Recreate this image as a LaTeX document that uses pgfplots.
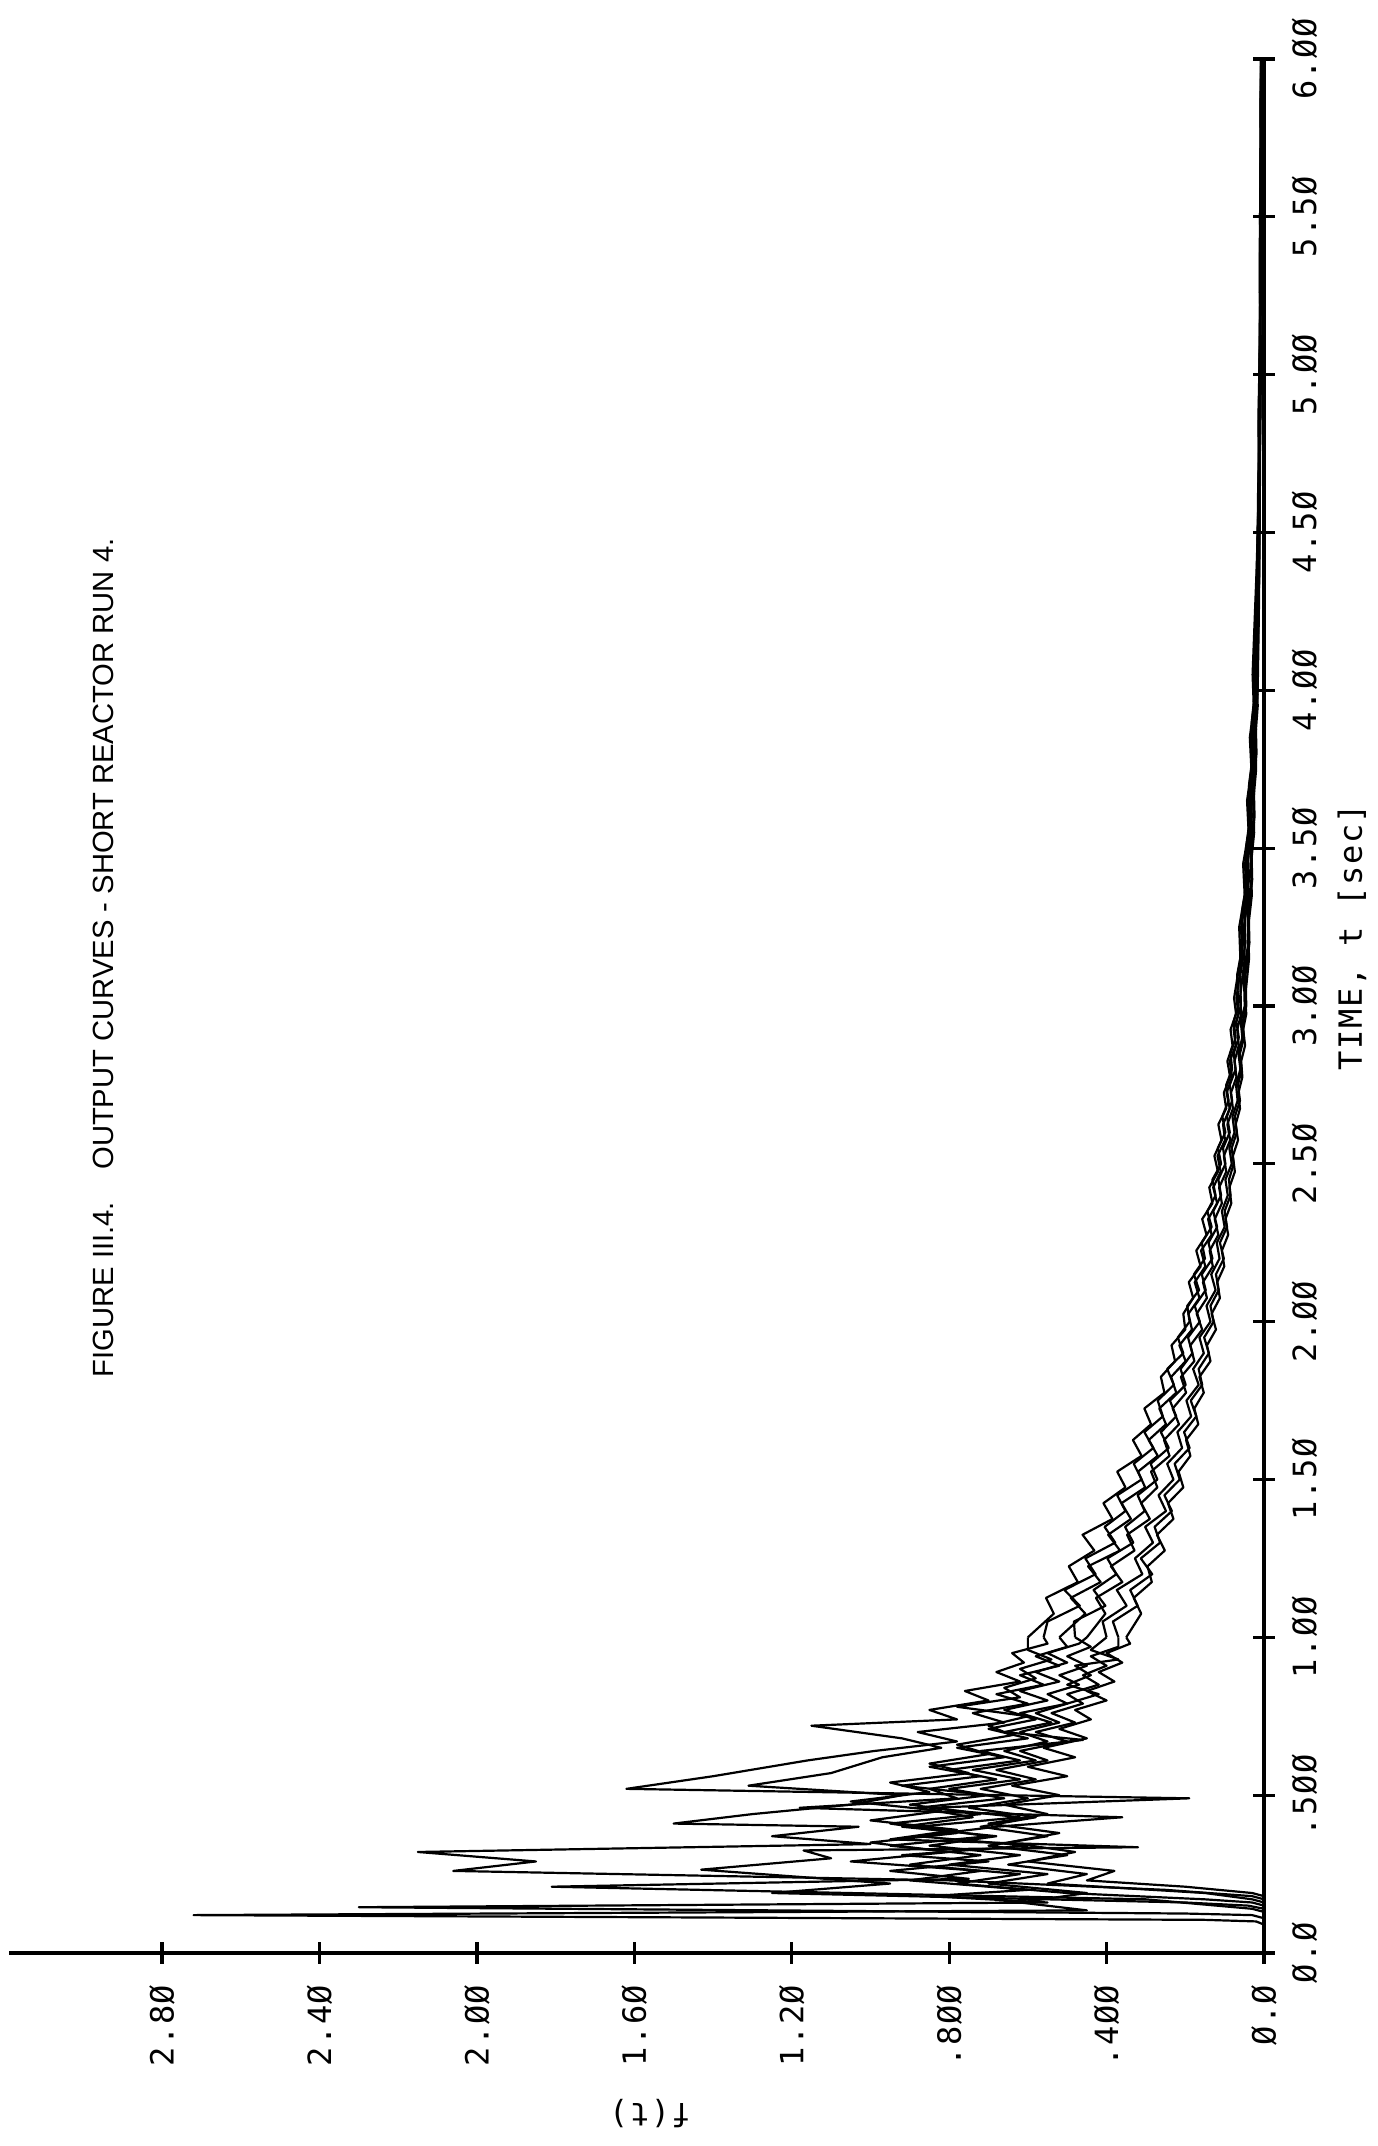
\documentclass[border=0pt]{standalone}
\usepackage{fontspec}
\usepackage{pgfplots}
\pgfplotsset{compat=1.18}
\usepackage{pgfplotstable}
\setmainfont{Liberation Sans}
\newfontfamily\plotfont[LetterSpace=5]{DejaVu Sans Mono}
\newfontfamily\titlefont{Liberation Sans}

% early part of each run (t, f)
\pgfplotstableread{
t f
0 0
0.09 0
0.10 0.02
0.105 0.15
0.12 2.72
0.135 0.45
0.16 0.62
0.19 0.45
0.22 0.70
0.25 0.55
0.28 0.80
0.31 0.62
0.34 0.85
0.37 0.68
0.40 0.92
0.43 0.74
0.46 0.88
0.49 0.66
0.52 0.80
0.55 0.62
0.58 0.74
0.61 0.58
0.64 0.66
0.67 0.55
0.70 0.62
0.73 0.52
0.76 0.58
0.79 0.50
0.82 0.55
0.85 0.47
0.88 0.52
0.91 0.45
0.94 0.50
0.97 0.44
1.00 0.48
}\earlyA
\pgfplotstableread{
t f
0 0
0.11 0
0.12 0.03
0.125 0.2
0.145 2.30
0.16 0.55
0.18 0.85
0.20 0.60
0.23 0.90
0.26 0.72
0.29 1.05
0.32 0.80
0.35 1.00
0.38 0.78
0.41 0.95
0.44 0.72
0.47 0.90
0.50 0.70
0.53 0.92
0.56 0.72
0.59 0.85
0.62 0.66
0.65 0.78
0.68 0.60
0.71 0.70
0.74 0.58
0.77 0.66
0.80 0.55
0.83 0.62
0.86 0.52
0.89 0.58
0.92 0.50
0.95 0.55
0.98 0.47
1.00 0.45
}\earlyB
\pgfplotstableread{
t f
0 0
0.13 0
0.14 0.03
0.15 0.12
0.17 0.30
0.21 1.81
0.235 0.75
0.26 0.95
0.29 0.70
0.31 0.92
0.34 0.60
0.37 0.88
0.40 0.68
0.43 0.36
0.46 1.18
0.49 0.78
0.52 0.85
0.55 0.68
0.58 0.80
0.61 0.62
0.64 0.72
0.675 0.46
0.70 0.66
0.73 0.54
0.76 0.62
0.79 0.50
0.82 0.42
0.85 0.50
0.88 0.44
0.91 0.48
0.93 0.37
0.96 0.44
1.00 0.40
}\earlyC
\pgfplotstableread{
t f
0 0
0.15 0
0.16 0.03
0.17 0.15
0.19 0.50
0.22 0.78
0.25 0.62
0.28 0.90
0.31 0.72
0.34 0.95
0.37 0.70
0.40 0.88
0.43 0.62
0.46 0.85
0.49 0.19
0.52 1.62
0.56 1.40
0.61 1.16
0.64 0.99
0.67 0.78
0.70 0.88
0.73 0.66
0.76 0.74
0.79 0.60
0.82 0.68
0.85 0.56
0.88 0.62
0.91 0.52
0.94 0.58
0.97 0.50
1.00 0.52
}\earlyD
\pgfplotstableread{
t f
0 0
0.17 0
0.18 0.03
0.20 0.25
0.23 0.80
0.26 2.06
0.29 1.85
0.32 2.15
0.345 1.00
0.37 1.25
0.40 1.03
0.41 1.50
0.44 1.30
0.47 1.05
0.50 0.92
0.53 1.31
0.57 1.10
0.62 0.97
0.65 0.82
0.68 0.92
0.72 1.15
0.74 0.78
0.77 0.85
0.80 0.70
0.83 0.76
0.86 0.62
0.89 0.68
0.92 0.61
0.95 0.64
0.98 0.55
1.00 0.56
}\earlyE
\pgfplotstableread{
t f
0 0
0.14 0
0.15 0.04
0.16 0.20
0.19 1.25
0.22 0.95
0.264 1.43
0.30 1.10
0.325 1.17
0.335 0.32
0.36 0.95
0.39 0.78
0.42 1.00
0.45 0.82
0.48 1.05
0.51 0.85
0.54 0.95
0.57 0.75
0.60 0.85
0.63 0.70
0.66 0.78
0.69 0.64
0.72 0.70
0.75 0.60
0.78 0.78
0.81 0.62
0.84 0.66
0.87 0.58
0.90 0.62
0.93 0.54
0.96 0.60
1.00 0.60
}\earlyF
\pgfplotstableread{
t f
0 0
0.16 0
0.17 0.03
0.19 0.15
0.22 0.55
0.25 0.45
0.28 0.65
0.31 0.50
0.34 0.70
0.37 0.55
0.40 0.72
0.43 0.58
0.46 0.75
0.49 0.60
0.52 0.72
0.55 0.58
0.58 0.68
0.61 0.55
0.64 0.62
0.67 0.50
0.70 0.58
0.73 0.48
0.76 0.54
0.79 0.46
0.82 0.50
0.85 0.42
0.88 0.46
0.91 0.40
0.94 0.44
0.97 0.37
1.00 0.37
}\earlyG
\pgfplotstableread{
t f
0 0
0.18 0
0.19 0.03
0.21 0.20
0.23 0.45
0.26 0.38
0.29 0.60
0.32 0.48
0.35 0.65
0.38 0.52
0.41 0.70
0.44 0.55
0.47 0.66
0.50 0.52
0.53 0.64
0.56 0.50
0.59 0.60
0.62 0.48
0.65 0.56
0.68 0.45
0.71 0.52
0.74 0.44
0.77 0.48
0.80 0.40
0.83 0.45
0.86 0.38
0.89 0.42
0.92 0.36
0.95 0.40
0.98 0.34
1.00 0.35
}\earlyH

% decay part of all runs (t: time for runs A,C,E,G; s: time for runs B,D,F,H)
\pgfplotstableread{
t s A B C D E F G H
1.00 1.000 0.480 0.450 0.400 0.520 0.560 0.600 0.370 0.350
1.05 1.075 0.483 0.403 0.410 0.454 0.550 0.534 0.384 0.312
1.10 1.125 0.403 0.427 0.349 0.491 0.468 0.554 0.321 0.331
1.15 1.175 0.433 0.360 0.374 0.415 0.507 0.473 0.340 0.285
1.20 1.225 0.375 0.389 0.309 0.447 0.428 0.496 0.284 0.296
1.25 1.275 0.398 0.329 0.328 0.366 0.454 0.431 0.313 0.252
1.30 1.325 0.332 0.348 0.282 0.396 0.378 0.461 0.264 0.272
1.35 1.375 0.353 0.290 0.302 0.338 0.405 0.385 0.278 0.230
1.40 1.425 0.303 0.312 0.249 0.362 0.352 0.408 0.234 0.244
1.45 1.475 0.321 0.271 0.268 0.302 0.373 0.352 0.253 0.205
1.50 1.525 0.271 0.287 0.230 0.320 0.311 0.373 0.214 0.217
1.55 1.575 0.288 0.240 0.246 0.270 0.331 0.311 0.227 0.187
1.60 1.625 0.242 0.254 0.208 0.293 0.281 0.333 0.189 0.198
1.65 1.675 0.262 0.216 0.220 0.249 0.304 0.287 0.203 0.167
1.70 1.725 0.223 0.232 0.185 0.266 0.257 0.304 0.172 0.177
1.75 1.775 0.239 0.198 0.197 0.223 0.270 0.253 0.186 0.153
1.80 1.825 0.199 0.211 0.166 0.236 0.229 0.262 0.157 0.164
1.85 1.875 0.212 0.177 0.180 0.199 0.246 0.226 0.166 0.136
1.90 1.925 0.182 0.187 0.153 0.215 0.205 0.235 0.140 0.145
1.95 1.975 0.193 0.157 0.164 0.183 0.219 0.200 0.152 0.122
2.00 2.025 0.163 0.171 0.136 0.192 0.189 0.205 0.128 0.133
2.05 2.075 0.176 0.145 0.146 0.164 0.195 0.180 0.136 0.112
2.10 2.125 0.148 0.155 0.123 0.176 0.165 0.191 0.115 0.119
2.15 2.175 0.158 0.130 0.134 0.149 0.178 0.161 0.122 0.101
2.20 2.225 0.131 0.138 0.113 0.160 0.150 0.172 0.102 0.107
2.25 2.275 0.141 0.116 0.120 0.133 0.158 0.146 0.112 0.091
2.30 2.325 0.119 0.125 0.100 0.142 0.133 0.157 0.094 0.098
2.35 2.375 0.129 0.107 0.107 0.119 0.144 0.131 0.100 0.083
2.40 2.425 0.109 0.114 0.092 0.129 0.123 0.139 0.085 0.088
2.45 2.475 0.116 0.096 0.098 0.110 0.131 0.117 0.089 0.074
2.50 2.525 0.098 0.102 0.082 0.118 0.109 0.126 0.077 0.079
2.55 2.575 0.104 0.086 0.088 0.099 0.117 0.108 0.082 0.066
2.60 2.625 0.087 0.093 0.075 0.104 0.098 0.116 0.069 0.072
2.65 2.675 0.094 0.079 0.080 0.087 0.106 0.096 0.074 0.061
2.70 2.725 0.081 0.084 0.067 0.095 0.090 0.102 0.061 0.065
2.75 2.775 0.087 0.070 0.071 0.081 0.096 0.086 0.066 0.055
2.80 2.825 0.072 0.075 0.060 0.087 0.081 0.093 0.057 0.058
2.85 2.875 0.077 0.064 0.065 0.072 0.085 0.080 0.061 0.048
2.90 2.925 0.064 0.068 0.055 0.077 0.072 0.085 0.051 0.053
2.95 2.975 0.070 0.058 0.059 0.065 0.077 0.071 0.054 0.045
3.00 3.025 0.059 0.061 0.049 0.070 0.066 0.076 0.045 0.048
3.10 3.150 0.060 0.049 0.051 0.056 0.068 0.060 0.047 0.038
3.20 3.250 0.047 0.051 0.040 0.058 0.053 0.063 0.037 0.040
3.30 3.350 0.050 0.040 0.042 0.045 0.056 0.049 0.039 0.031
3.40 3.450 0.038 0.042 0.032 0.048 0.043 0.053 0.030 0.033
3.50 3.550 0.041 0.032 0.034 0.037 0.046 0.039 0.032 0.025
3.60 3.650 0.031 0.035 0.026 0.040 0.035 0.043 0.024 0.027
3.70 3.750 0.034 0.026 0.029 0.030 0.038 0.032 0.026 0.020
3.80 3.850 0.025 0.029 0.021 0.032 0.028 0.036 0.019 0.022
3.90 3.950 0.028 0.021 0.024 0.024 0.031 0.026 0.021 0.016
4.00 4.050 0.021 0.024 0.017 0.026 0.023 0.029 0.016 0.018
4.25 4.375 0.017 0.015 0.014 0.018 0.016 0.019 0.013 0.012
4.50 4.625 0.013 0.015 0.012 0.014 0.016 0.013 0.011 0.012
4.75 4.875 0.012 0.010 0.011 0.013 0.011 0.014 0.010 0.009
5.00 5.125 0.009 0.011 0.010 0.010 0.012 0.010 0.008 0.009
5.25 5.375 0.010 0.008 0.009 0.011 0.009 0.010 0.009 0.007
5.50 5.625 0.008 0.009 0.008 0.009 0.010 0.008 0.007 0.008
5.75 5.875 0.007 0.008 0.007 0.008 0.008 0.009 0.007 0.006
6.00 6.000 0.007 0.006 0.007 0.007 0.008 0.007 0.006 0.006
}\decay

\begin{document}
\begin{tikzpicture}
\path[use as bounding box] (0,0) rectangle (344.5pt,536.5pt);
\begin{axis}[
  at={(2.25pt,48.25pt)}, anchor=south west,
  scale only axis, width=313.75pt, height=473.5pt,
  xmin=0, xmax=3.189, ymin=0, ymax=6,
  x dir=reverse,
  axis x line*=bottom, axis y line*=right,
  axis line style={line width=0.9pt, black},
  xtick={0,0.4,0.8,1.2,1.6,2.0,2.4,2.8},
  xticklabels={\hphantom{0}Ø.Ø, .4ØØ, .8ØØ, 1.2Ø, 1.6Ø, 2.ØØ, 2.4Ø, 2.8Ø},
  ytick={0,0.5,1,1.5,2,2.5,3,3.5,4,4.5,5,5.5,6},
  yticklabels={Ø.Ø, .5ØØ, 1.ØØ, 1.5Ø, 2.ØØ, 2.5Ø, 3.ØØ, 3.5Ø, 4.ØØ, 4.5Ø, 5.ØØ, 5.5Ø, 6.ØØ},
  tick align=center,
  major tick length=5.5pt,
  tick style={line width=0.8pt, black},
  xticklabel style={font=\plotfont\fontsize{8}{8}\selectfont, yshift=-5pt, rotate=90, anchor=east, inner sep=0pt},
  yticklabel style={font=\plotfont\fontsize{8}{8}\selectfont, xshift=4pt, rotate=90, anchor=north, inner sep=0pt},
  cycle list={{black, solid, mark=none}},
  every axis plot post/.append style={line width=0.55pt, line join=round, mark=none},
  clip=false,
]
\addplot table [x=f, y=t] {\earlyA};
\addplot table [x=A, y=t] {\decay};
\addplot table [x=f, y=t] {\earlyB};
\addplot table [x=B, y=s] {\decay};
\addplot table [x=f, y=t] {\earlyC};
\addplot table [x=C, y=t] {\decay};
\addplot table [x=f, y=t] {\earlyD};
\addplot table [x=D, y=s] {\decay};
\addplot table [x=f, y=t] {\earlyE};
\addplot table [x=E, y=t] {\decay};
\addplot table [x=f, y=t] {\earlyF};
\addplot table [x=F, y=s] {\decay};
\addplot table [x=f, y=t] {\earlyG};
\addplot table [x=G, y=t] {\decay};
\addplot table [x=f, y=t] {\earlyH};
\addplot table [x=H, y=s] {\decay};
\end{axis}
\node[rotate=90, font=\titlefont\fontsize{7.3}{8}\selectfont] at (25.75pt,297pt) {FIGURE III.4.\ \ \ \ OUTPUT CURVES - SHORT REACTOR RUN 4.};
\node[rotate=90, font=\plotfont\fontsize{8}{8}\selectfont] at (338pt,302.25pt) {TIME, t [sec]};
\node[rotate=180, font=\plotfont\fontsize{8}{8}\selectfont] at (162.5pt,8pt) {f(t)};
\end{tikzpicture}
\end{document}
